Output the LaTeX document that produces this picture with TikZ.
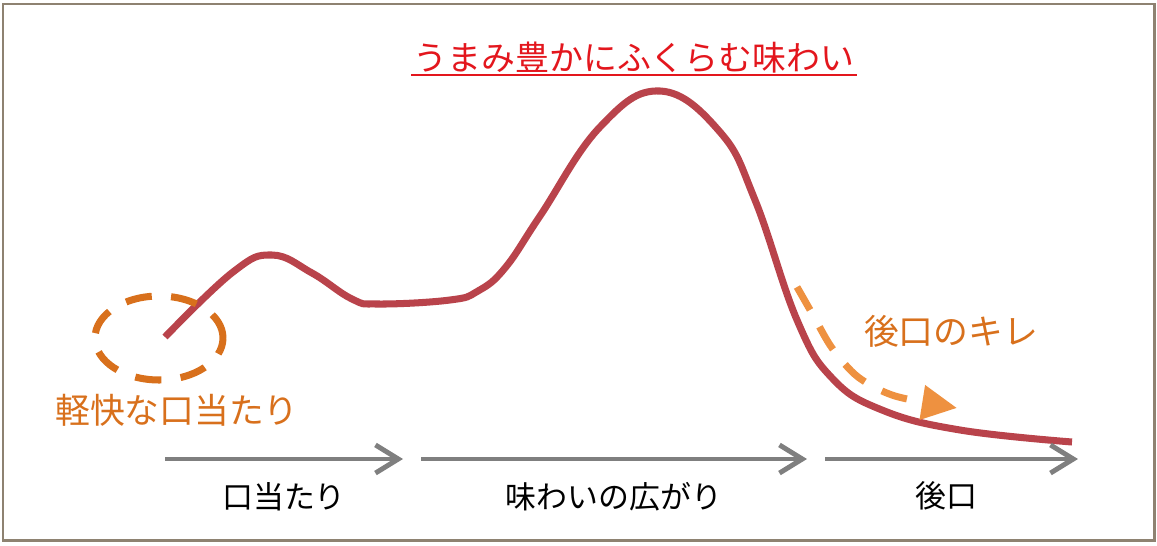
\documentclass[tikz,border=0pt]{standalone}
\usepackage{fontspec}
\setmainfont{Noto Sans CJK JP}
\usepackage{xcolor}
\usepackage{tikz}
\usetikzlibrary{arrows.meta,positioning}
\definecolor{FrameGray}{HTML}{8E8271}
\definecolor{Curve}{HTML}{B9434B}
\definecolor{TitleRed}{HTML}{E3161D}
\definecolor{Orange}{HTML}{D8701C}
\definecolor{LightOrange}{HTML}{EE9140}
\definecolor{AxisGray}{HTML}{7F7F7F}
\begin{document}
\begin{tikzpicture}[x=0.02cm,y=-0.02cm,
  phase/.style={font=\fontsize{17.6pt}{20pt}\selectfont,text=black},
  note/.style={font=\fontsize{19.8pt}{23pt}\selectfont,text=Orange},
  headline/.style={font=\fontsize{19.3pt}{23pt}\selectfont,text=TitleRed,inner xsep=1pt},
  axis/.style={-{Straight Barb[length=13pt,width=16pt]},line width=2.8pt,color=AxisGray},
  flavor/.style={line width=4pt,color=Curve},
  dashes/.style={line width=4pt,dash pattern=on 15pt off 11pt}]
\useasboundingbox (0,0) rectangle (1157,545);
\draw[FrameGray,line width=1.7pt] (3,4) rectangle (1154,540);
% taste curve
\draw[flavor] plot[smooth,tension=0.7] coordinates {(165,337) (233,272) (272,255)
  (312,273) (352,299) (378,304) (450,300) (478,291) (505,268) (540,216) (600,127)
  (660,91) (720,132) (755,200) (797,320) (832,378) (882,410) (960,430) (1072,442)};
% light first touch
\draw[Orange,dashes] (159,338) ellipse [x radius=1.28cm,y radius=0.84cm];
\node[note] (light) at (177,410) {軽快な口当たり};
% clean finish
\draw[LightOrange,dashes,-{Triangle[length=20pt,width=19pt]}]
  plot[smooth] coordinates {(797,287) (813,315) (832,348) (858,377) (895,396) (957,408)};
\node[note] (kire) at (951,331) {後口のキレ};
% peak
\node[headline] (peak) at (634,58) {うまみ豊かにふくらむ味わい};
\draw[TitleRed,line width=1.5pt] ([yshift=-2.4pt]peak.base west) -- ([yshift=-2.4pt]peak.base east);
% time axis
\coordinate (t0) at (165,459);
\coordinate (t1) at (403,459);
\coordinate (t2) at (421,459);
\coordinate (t3) at (807,459);
\coordinate (t4) at (825,459);
\coordinate (t5) at (1078,459);
\foreach \a/\b in {t0/t1,t2/t3,t4/t5}
  \draw[axis] (\a) -- (\b);
\path (t0) -- (t1) node[phase,midway,yshift=-0.76cm] (first) {口当たり};
\path (t2) -- (t3) node[phase,midway,yshift=-0.76cm] (spread) {味わいの広がり};
\path (t4) -- (t5) node[phase,midway,yshift=-0.74cm,xshift=-0.1cm] (after) {後口};
\end{tikzpicture}
\end{document}
